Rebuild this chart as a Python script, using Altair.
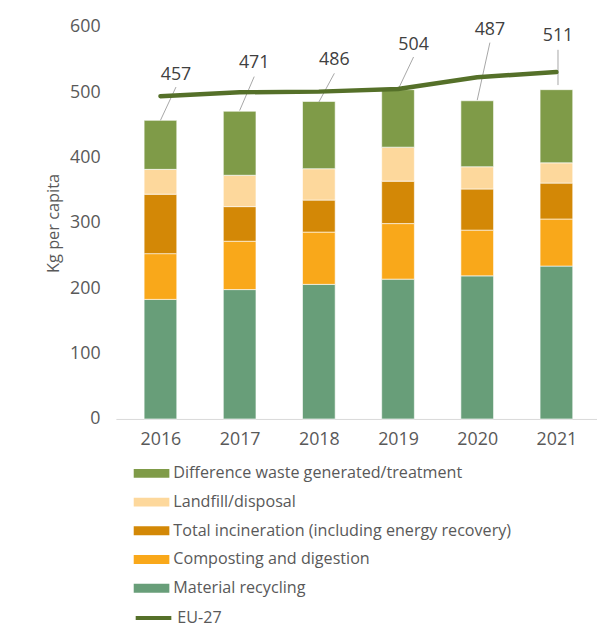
import altair as alt
import pandas as pd

years = [2016, 2017, 2018, 2019, 2020, 2021]
recycling = [183, 198, 206, 214, 219, 234]
composting = [70, 74, 80, 85, 70, 72]
incineration = [91, 53, 49, 65, 63, 55]
landfill = [38, 48, 48, 52, 34, 31]
difference = [75, 98, 103, 88, 101, 112]
eu27 = [494, 500, 501, 505, 523, 531]
total_labels = [457, 471, 486, 504, 487, 511]
label_y = [527, 544, 550, 573, 595, 586]
leader_top = [508, 524, 529, 554, 576, 565]
leader_bottom = [457, 472, 485, 504, 488, 511]
label_dx = [0.196, 0.184, 0.196, 0.196, 0.16, 0.02]
leader_bottom_dx = [0, 0, 0, 0, 0, 0.02]

bar_names = [
    "Difference waste generated/treatment",
    "Landfill/disposal",
    "Total incineration (including energy recovery)",
    "Composting and digestion",
    "Material recycling",
]
bar_colors = ["#7F9B48", "#FDD89C", "#D38806", "#F9A81A", "#689E79"]
line_name = "EU-27"
line_color = "#557029"

stack_series = [
    ("Material recycling", recycling),
    ("Composting and digestion", composting),
    ("Total incineration (including energy recovery)", incineration),
    ("Landfill/disposal", landfill),
    ("Difference waste generated/treatment", difference),
]
rows = []
for order, (name, vals) in enumerate(stack_series):
    for yr, v in zip(years, vals):
        rows.append({"year": yr, "series": name, "value": v, "order": order})
bars_df = pd.DataFrame(rows)

line_df = pd.DataFrame({"year": years, "value": eu27, "series": [line_name] * len(years)})

lab_df = pd.DataFrame({
    "year": years,
    "label": [str(v) for v in total_labels],
    "label_y": label_y,
    "top": leader_top,
    "bottom": leader_bottom,
    "x_top": [y + d for y, d in zip(years, label_dx)],
    "x_bottom": [y + d for y, d in zip(years, leader_bottom_dx)],
})

FONT = "Open Sans"
xscale = alt.Scale(domain=[2015.5, 2021.45], nice=False, zero=False)
yscale = alt.Scale(domain=[0, 600], nice=False)

common_legend = dict(
    title=None,
    orient="none",
    direction="vertical",
    symbolSize=1296,
    labelFont=FONT,
    labelFontSize=16.3,
    labelColor="#595959",
    labelOffset=4,
    labelLimit=500,
    rowPadding=2,
)

bars = alt.Chart(bars_df).mark_bar(width=33, stroke="white", strokeWidth=0.6).encode(
    x=alt.X(
        "year:Q",
        scale=xscale,
        axis=alt.Axis(
            values=years, format="d", grid=False, ticks=False, title=None,
            domainColor="#D9D9D9", domainWidth=1, labelPadding=12,
            labelFont=FONT, labelFontSize=18, labelColor="#595959",
        ),
    ),
    y=alt.Y(
        "value:Q",
        stack="zero",
        scale=yscale,
        axis=alt.Axis(
            values=[0, 100, 200, 300, 400, 500, 600], grid=False, ticks=False, domain=False,
            title="Kg per capita", titleFont=FONT, titleFontSize=16.5, titleFontWeight="normal",
            titleColor="#595959", titlePadding=8, labelPadding=16,
            labelFont=FONT, labelFontSize=18, labelColor="#595959",
        ),
    ),
    fill=alt.Fill(
        "series:N",
        scale=alt.Scale(domain=bar_names, range=bar_colors),
        legend=alt.Legend(
            legendX=18, legendY=433,
            symbolType="M-1,-0.25H1V0.25H-1Z", symbolStrokeWidth=0,
            **common_legend,
        ),
    ),
    order=alt.Order("order:Q", sort="ascending"),
)

line = alt.Chart(line_df).mark_line(strokeWidth=4.5, strokeCap="round", strokeJoin="round").encode(
    x=alt.X("year:Q", scale=xscale),
    y=alt.Y("value:Q", scale=yscale),
    stroke=alt.Stroke(
        "series:N",
        scale=alt.Scale(domain=[line_name], range=[line_color]),
        legend=alt.Legend(
            legendX=18, legendY=577,
            symbolType="M-1,0H1", symbolStrokeWidth=4, symbolFillColor=line_color,
            **common_legend,
        ),
    ),
)

leaders = alt.Chart(lab_df).mark_rule(color="#A6A6A6", strokeWidth=1).encode(
    x=alt.X("x_bottom:Q", scale=xscale),
    x2="x_top:Q",
    y=alt.Y("bottom:Q", scale=yscale),
    y2="top:Q",
)

labels = alt.Chart(lab_df).mark_text(
    font=FONT, fontSize=18, color="#404040", baseline="middle", align="center"
).encode(
    x=alt.X("x_top:Q", scale=xscale),
    y=alt.Y("label_y:Q", scale=yscale),
    text="label:N",
)

chart = alt.layer(bars, leaders, line, labels).properties(
    width=486,
    height=396,
    autosize=alt.AutoSizeParams(type="none"),
    padding={"left": 109, "top": 16, "right": 0, "bottom": 204},
).configure_view(stroke=None)

chart.save("out.html", embed_options={"renderer": "svg", "actions": False})
